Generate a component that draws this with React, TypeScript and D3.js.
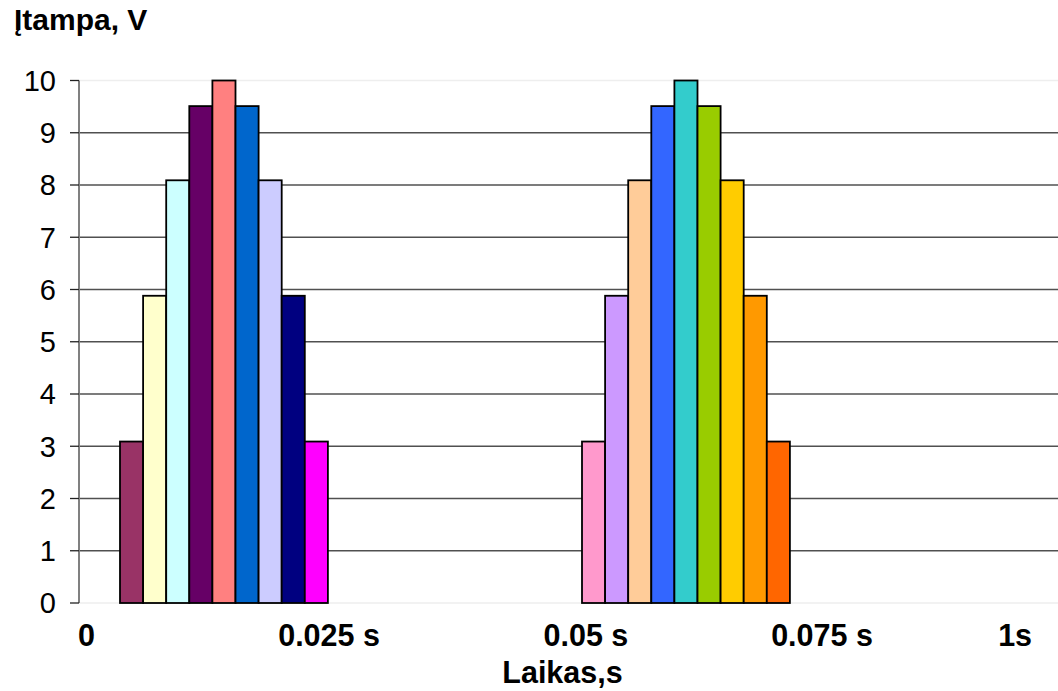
import React from "react";
import * as d3 from "d3";

// Sample index (one sample = 1 ms) and voltage of each bar
const halfWave1Steps = [1, 2, 3, 4, 5, 6, 7, 8, 9];
const halfWave2Steps = [21, 22, 23, 24, 25, 26, 27, 28, 29];
const voltages = [3.09, 5.88, 8.09, 9.51, 10, 9.51, 8.09, 5.88, 3.09];
const halfWave1Colors = ["#993366", "#FFFFCC", "#CCFFFF", "#660066", "#FF8080", "#0066CC", "#CCCCFF", "#000080", "#FF00FF"];
const halfWave2Colors = ["#FF99CC", "#CC99FF", "#FFCC99", "#3366FF", "#33CCCC", "#99CC00", "#FFCC00", "#FF9900", "#FF6600"];

const yTicks = [0, 1, 2, 3, 4, 5, 6, 7, 8, 9, 10];
const xLabels = ["0", "0.025 s", "0.05 s", "0.075 s", "1s"];
// where each time label sits, in sample units
const xLabelSteps = [-0.95, 9.55, 20.67, 30.89, 39.25];

const W = 1058;
const H = 691;
const plotLeft = 79;
const plotRight = 1058;
const font = "Arial, 'Liberation Sans', sans-serif";

export default function App() {
  const y = d3.scaleLinear().domain([0, 10]).range([603, 80.5]);
  const x = d3.scaleLinear().domain([0, 20]).range([108.45, 570.45]);
  const barW = x(1) - x(0);

  const bars = [
    ...halfWave1Steps.map((s, i) => ({ s, v: voltages[i], c: halfWave1Colors[i] })),
    ...halfWave2Steps.map((s, i) => ({ s, v: voltages[i], c: halfWave2Colors[i] })),
  ];

  return (
    <svg
      width={W}
      height={H}
      style={{ position: "absolute", left: 0, top: 0, background: "#fff" }}
      fontFamily={font}
    >
      {/* horizontal gridlines */}
      {yTicks.map((t) => (
        <line
          key={"g" + t}
          x1={plotLeft}
          x2={plotRight}
          y1={y(t)}
          y2={y(t)}
          stroke={t === 0 || t === 10 ? "#eeeeee" : "#505050"}
          strokeWidth={1.3}
        />
      ))}
      {/* bars */}
      {bars.map((b) => (
        <rect
          key={"b" + b.s}
          x={x(b.s) - barW / 2}
          y={y(b.v)}
          width={barW}
          height={y(0) - y(b.v)}
          fill={b.c}
          stroke="#000"
          strokeWidth={1.8}
        />
      ))}
      {/* value axis */}
      <line x1={plotLeft} x2={plotLeft} y1={y(10)} y2={y(0)} stroke="#808080" strokeWidth={2} />
      {yTicks.map((t) => (
        <g key={"t" + t}>
          <line x1={70} x2={plotLeft} y1={y(t)} y2={y(t)} stroke="#222" strokeWidth={1.3} />
          <text x={56} y={y(t)} dy="0.36em" textAnchor="end" fontSize={29} fill="#000">
            {t}
          </text>
        </g>
      ))}
      {/* time labels */}
      {xLabels.map((l, i) => (
        <text
          key={"x" + l}
          x={x(xLabelSteps[i])}
          y={646}
          textAnchor="middle"
          fontSize={30.5}
          fontWeight="bold"
          fill="#000"
        >
          {l}
        </text>
      ))}
      {/* axis titles */}
      <text x={14} y={30} fontSize={30} fontWeight="bold" fill="#000">
        Įtampa, V
      </text>
      <text x={562.5} y={683} textAnchor="middle" fontSize={30.5} fontWeight="bold" fill="#000">
        Laikas,s
      </text>
    </svg>
  );
}
